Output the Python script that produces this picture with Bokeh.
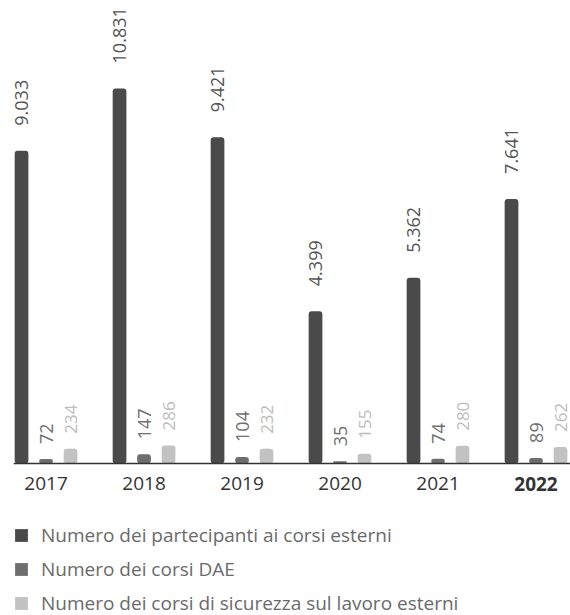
import math
from bokeh.plotting import figure
from bokeh.models import ColumnDataSource, Range1d, Span, Legend, LegendItem
from bokeh.core.properties import value
from bokeh.embed import file_html
from bokeh.resources import INLINE

years = ["2017", "2018", "2019", "2020", "2021", "2022"]
partecipanti = [9033, 10831, 9421, 4399, 5362, 7641]
corsi_dae = [72, 147, 104, 35, 74, 89]
corsi_sicurezza = [234, 286, 232, 155, 280, 262]
labels_part = ["9.033", "10.831", "9.421", "4.399", "5.362", "7.641"]

series_names = [
    "Numero dei partecipanti ai corsi esterni",
    "Numero dei corsi DAE",
    "Numero dei corsi di sicurezza sul lavoro esterni",
]
colors = ["#4a4a4a", "#6e6e6e", "#c2c2c2"]
label_colors = ["#555555", "#707070", "#bdbdbd"]
FONT = "Open Sans"

idx = list(range(len(years)))
src = ColumnDataSource(dict(
    x=idx,
    x_dark=[i - 0.25 for i in idx],
    x_mid=idx,
    x_light=[i + 0.25 for i in idx],
    part=partecipanti,
    dae=corsi_dae,
    sic=corsi_sicurezza,
    lab_part=labels_part,
    lab_dae=[str(v) for v in corsi_dae],
    lab_sic=[str(v) for v in corsi_sicurezza],
    year=years,
    ystyle=["normal"] * (len(years) - 1) + ["bold"],
    zero=[0] * len(years),
))

W, H = 570, 615
p = figure(width=W, height=H, output_backend="svg", toolbar_location=None,
           min_border_left=13, min_border_right=0, min_border_top=0, min_border_bottom=0,
           x_range=Range1d(-0.332, 5.352), y_range=Range1d(-4389, 13370))
p.extra_y_ranges = {"small": Range1d(-2413, 7349)}
p.axis.visible = False
p.grid.visible = False
p.outline_line_color = None
p.background_fill_color = None
p.border_fill_color = None

bw = 0.14
r1 = p.vbar(x="x_dark", top="part", bottom=0, width=bw, source=src,
            fill_color=colors[0], line_color=None, border_radius=3)
r2 = p.vbar(x="x_mid", top="dae", bottom=0, width=bw, source=src,
            fill_color=colors[1], line_color=None, border_radius=3, y_range_name="small")
r3 = p.vbar(x="x_light", top="sic", bottom=0, width=bw, source=src,
            fill_color=colors[2], line_color=None, border_radius=3, y_range_name="small")

p.add_layout(Span(location=0, dimension="width", line_color="#333333", line_width=1.5))

p.text(x="x_dark", y="part", text="lab_part", source=src, angle=math.pi / 2,
       text_align="left", text_baseline="middle", y_offset=-25,
       text_font=value(FONT), text_font_size="18px", text_color=label_colors[0])
p.text(x="x_mid", y="dae", text="lab_dae", source=src, angle=math.pi / 2,
       text_align="left", text_baseline="middle", y_offset=-15, y_range_name="small",
       text_font=value(FONT), text_font_size="18px", text_color=label_colors[1])
p.text(x="x_light", y="sic", text="lab_sic", source=src, angle=math.pi / 2,
       text_align="left", text_baseline="middle", y_offset=-15, y_range_name="small",
       text_font=value(FONT), text_font_size="17px", text_color=label_colors[2])

p.text(x="x", y="zero", text="year", source=src, text_align="center",
       text_baseline="middle", y_offset=20, text_font=value(FONT),
       text_font_size="19px", text_color="#333333", text_font_style="ystyle")

legend = Legend(items=[LegendItem(label=series_names[0], renderers=[r1]),
                       LegendItem(label=series_names[1], renderers=[r2]),
                       LegendItem(label=series_names[2], renderers=[r3])],
                location=(0, -1), orientation="vertical",
                padding=0, margin=0, spacing=8,
                glyph_width=16, glyph_height=16, label_height=20, label_standoff=12,
                label_text_font=FONT, label_text_font_size="19px",
                label_text_color="#6a6a6a",
                border_line_color=None, background_fill_alpha=0)
p.add_layout(legend)

open("out.html", "w").write(file_html(p, INLINE))
